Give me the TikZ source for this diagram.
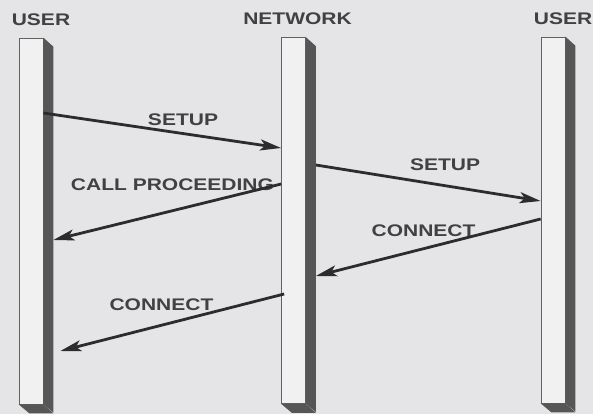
\documentclass[tikz,border=0pt]{standalone}
\usepackage{fontspec}
\setmainfont{Liberation Sans}
\newfontfamily\widefont[FakeStretch=1.25]{Liberation Sans}
\usetikzlibrary{arrows.meta}
\definecolor{paper}{RGB}{229,229,231}
\definecolor{barlight}{RGB}{241,241,241}
\definecolor{bardark}{RGB}{86,86,86}
\definecolor{ink}{RGB}{44,44,44}
\tikzset{
  lifebar/.style={draw=ink!75, line width=.7pt, fill=barlight,
    minimum width=24pt, minimum height=366pt, inner sep=0pt},
  barshade/.style={fill=bardark},
  msg/.style={draw=ink, line width=2.8pt,
    -{Stealth[length=21pt,width=11pt,inset=5pt]}},
  msglabel/.style={text=ink!90, inner sep=0pt,
    font=\widefont\bfseries\fontsize{16.8}{18}\selectfont}
}
\begin{document}
\begin{tikzpicture}[x=1pt,y=-1pt]
  \fill[paper] (0,0) rectangle (593,414);
  \useasboundingbox (0,0) rectangle (593,414);
  % parties
  \node[msglabel] (userAtxt) at (41,19.5) {USER};
  \node[msglabel] (nettxt) at (297.5,19) {NETWORK};
  \node[msglabel] (userBtxt) at (563,19) {USER};
  % lifelines
  \node[lifebar] (userA) at (31,221) {};
  \fill[barshade] (userA.north east) -- ++(10,9) -- ++(0,366) -- (userA.south east) -- cycle;
  \fill[barshade] (userA.south west) -- (userA.south east) -- ++(10,9) -- ++(-24,0) -- cycle;
  \node[lifebar] (net) at (293.5,220.5) {};
  \fill[barshade] (net.north east) -- ++(10,9) -- ++(0,366) -- (net.south east) -- cycle;
  \fill[barshade] (net.south west) -- (net.south east) -- ++(10,9) -- ++(-24,0) -- cycle;
  \node[lifebar] (userB) at (553,220) {};
  \fill[barshade] (userB.north east) -- ++(10,9) -- ++(0,366) -- (userB.south east) -- cycle;
  \fill[barshade] (userB.south west) -- (userB.south east) -- ++(10,9) -- ++(-24,0) -- cycle;
  \coordinate (userAside) at ([xshift=10pt]userA.east);
  \coordinate (netside) at ([xshift=10pt]net.east);
  % messages
  \node[msglabel] (setupA) at (183,119.5) {SETUP};
  \node[msglabel] (callproc) at (172.5,185) {CALL PROCEEDING};
  \node[msglabel] (setupB) at (445,164.5) {SETUP};
  \node[msglabel] (connectA) at (423.5,230.5) {CONNECT};
  \node[msglabel] (connectB) at (161.5,305) {CONNECT};
  \draw[msg] (userA.east |- 0,113) -- (net.west |- 0,148);
  \draw[msg] (net.west |- 0,184) -- (userAside |- 0,240);
  \draw[msg] (netside |- 0,165) -- (userB.west |- 0,201);
  \draw[msg] (userB.west |- 0,219) -- (netside |- 0,276);
  \draw[msg] ([xshift=3pt]net.west |- 0,294) -- ([xshift=7pt]userAside |- 0,351);
\end{tikzpicture}
\end{document}
